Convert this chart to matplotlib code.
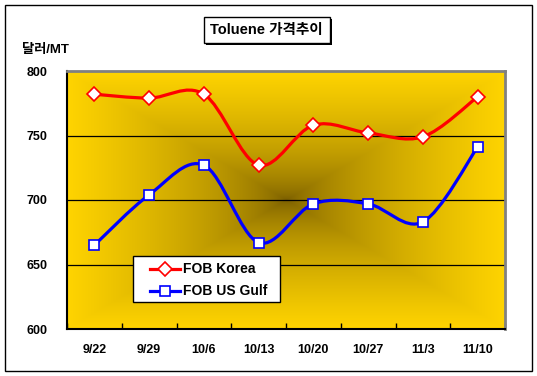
import numpy as np
import matplotlib
matplotlib.use("Agg")
import matplotlib.pyplot as plt
import matplotlib.transforms as mtransforms
from matplotlib.path import Path
from matplotlib.patches import PathPatch, Rectangle
from matplotlib.lines import Line2D

plt.rcParams['font.family'] = ['Liberation Sans', 'Noto Sans CJK KR', 'DejaVu Sans']
plt.rcParams['font.weight'] = 'bold'

# data
dates = ["9/22", "9/29", "10/6", "10/13", "10/20", "10/27", "11/3", "11/10"]
fob_korea = [782, 779, 782, 727, 758, 752, 749, 780]
fob_us_gulf = [665, 704, 727, 667, 697, 697, 683, 741]
y_ticks = [600, 650, 700, 750, 800]

W, H = 537, 376
fig = plt.figure(figsize=(W / 100, H / 100), dpi=100)
# pixel coordinates, origin top-left
pxt = mtransforms.Affine2D().scale(1.0 / W, -1.0 / H).translate(0, 1) + fig.transFigure


def px(x0, y0, x1, y1):
    # pixel box -> figure fraction [left, bottom, width, height]
    return [x0 / W, 1 - y1 / H, (x1 - x0) / W, (y1 - y0) / H]


# outer frame
fig.add_artist(Rectangle((5, 5), 527, 366, transform=pxt,
                         facecolor='none', edgecolor='black', lw=1.0, zorder=0))

ax = fig.add_axes(px(67, 71, 505, 329))
n = len(dates)
ax.set_xlim(-0.5, n - 0.5)
ax.set_ylim(600, 800)

# rectangular "from centre" gradient fill
gx = np.linspace(-1, 1, 400)
gy = np.linspace(-1, 1, 240)
U, V = np.meshgrid(gx, gy)
t = np.maximum(np.abs(U), np.abs(V)) ** 0.6
dark = np.array([118, 90, 0]) / 255.0
edge = np.array([255, 212, 0]) / 255.0
img = dark[None, None, :] + (edge - dark)[None, None, :] * t[..., None]
ax.imshow(img, extent=(-0.5, n - 0.5, 600, 800), aspect='auto', zorder=0,
          interpolation='bilinear')

for yv in y_ticks[1:-1]:
    ax.axhline(yv, color='black', lw=0.9, zorder=1)


def smooth_path(xs, ys):
    # excel-like smoothed line through the points as cubic bezier segments
    pts = np.column_stack([xs, ys]).astype(float)
    verts = [pts[0]]
    codes = [Path.MOVETO]
    m = len(pts)
    for i in range(m - 1):
        p0 = pts[i - 1] if i > 0 else pts[i]
        p1 = pts[i]
        p2 = pts[i + 1]
        p3 = pts[i + 2] if i + 2 < m else pts[i + 1]
        c1 = p1 + (p2 - p0) / 6.0
        c2 = p2 - (p3 - p1) / 6.0
        verts += [c1, c2, p2]
        codes += [Path.CURVE4] * 3
    return Path(verts, codes)


xs = np.arange(n)
series = [
    (fob_korea, '#ff0000', 'D', 7.5, "FOB Korea"),
    (fob_us_gulf, '#0000ff', 's', 7, "FOB US Gulf"),
]
for vals, col, mk, ms, lab in series:
    ax.add_patch(PathPatch(smooth_path(xs, vals), facecolor='none', edgecolor=col,
                           lw=2.3, zorder=3, capstyle='round'))
    ax.plot(xs, vals, ls='none', marker=mk, ms=ms, mfc='white', mec=col, mew=1.2, zorder=4)

ax.set_xticks(np.arange(-0.5, n, 1.0))
ax.set_xticklabels([])
ax.set_xticks(xs, minor=True)
ax.set_xticklabels(dates, minor=True)
ax.tick_params(axis='x', which='major', direction='in', length=4, width=1, color='black')
ax.tick_params(axis='x', which='minor', length=0, pad=11, labelsize=9)
ax.set_yticks(y_ticks)
ax.set_yticklabels([str(v) for v in y_ticks])
ax.tick_params(axis='y', direction='in', length=0, pad=14, labelsize=9)

for s in ('left', 'bottom'):
    ax.spines[s].set_color('black')
    ax.spines[s].set_linewidth(1.5)
for s in ('top', 'right'):
    ax.spines[s].set_color('#808080')
    ax.spines[s].set_linewidth(2.0)

# legend box drawn by hand (pixel layout of the original)
fig.add_artist(Rectangle((133, 256), 147, 46, transform=pxt, facecolor='white',
                         edgecolor='black', lw=1.0, zorder=5))
for (vals, col, mk, ms, lab), yrow in zip(series, (269, 291)):
    fig.add_artist(Line2D([150, 180], [yrow, yrow], transform=pxt, color=col, lw=2.3,
                          zorder=6))
    fig.add_artist(Line2D([165], [yrow], transform=pxt, ls='none', marker=mk, ms=ms,
                          mfc='white', mec=col, mew=1.2, zorder=7))
    fig.text(183 / W, 1 - yrow / H, lab, ha='left', va='center', fontsize=10,
             fontweight='bold', zorder=7)

# title box with shadow
fig.add_artist(Rectangle((206, 19), 126, 26, transform=pxt,
                         facecolor='black', edgecolor='black', lw=0, zorder=1))
fig.add_artist(Rectangle((204, 17), 126, 26, transform=pxt,
                         facecolor='white', edgecolor='black', lw=1.0, zorder=2))
fig.text(266 / W, 1 - 30 / H, "Toluene 가격추이", ha='center', va='center',
         fontsize=10.5, fontweight='bold', zorder=3)
fig.text(22 / W, 1 - 50 / H, "달러/MT", ha='left', va='center', fontsize=9.5, fontweight='bold')

fig.savefig("out.png", dpi=100)
